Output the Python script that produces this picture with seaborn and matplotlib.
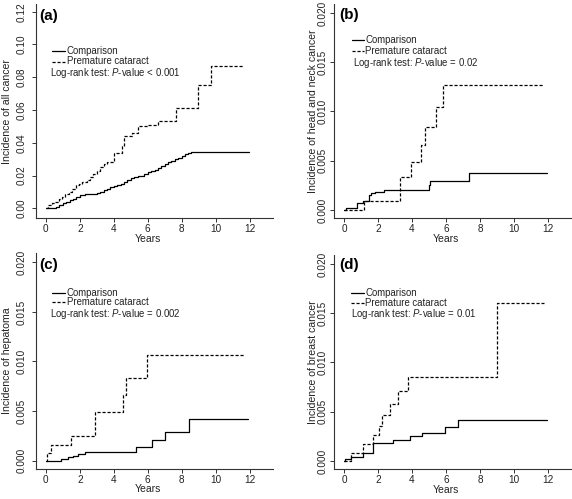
import matplotlib
matplotlib.use("Agg")
import pandas as pd
import matplotlib.pyplot as plt
import seaborn as sns

# cumulative incidence step curves (time in years, incidence)
a_cmp_t = [0, 0.3, 0.6, 0.8, 1.0, 1.2, 1.4, 1.6, 1.8, 2.0, 2.3, 2.6, 3.0, 3.2, 3.4, 3.6, 3.8, 4.0, 4.2, 4.4,
           4.6, 4.8, 5.0, 5.2, 5.4, 5.6, 5.8, 6.0, 6.2, 6.4, 6.6, 6.8, 7.0, 7.2, 7.4, 7.6, 7.8, 8.0, 8.2, 8.4,
           8.55, 11.95]
a_cmp_v = [0, 0.0005, 0.001, 0.002, 0.003, 0.004, 0.005, 0.0055, 0.007, 0.008, 0.0085, 0.009, 0.0095, 0.010,
           0.011, 0.012, 0.013, 0.0135, 0.014, 0.015, 0.016, 0.017, 0.0185, 0.019, 0.0195, 0.020, 0.021, 0.022,
           0.0225, 0.0235, 0.0245, 0.026, 0.027, 0.028, 0.029, 0.030, 0.031, 0.032, 0.033, 0.034, 0.0345, 0.0345]
a_pc_t = [0, 0.15, 0.35, 0.55, 0.75, 0.95, 1.15, 1.35, 1.55, 1.75, 1.95, 2.15, 2.4, 2.6, 2.8, 3.0, 3.2, 3.4,
          3.6, 4.0, 4.5, 4.6, 5.1, 5.4, 6.0, 6.6, 7.65, 8.95, 9.7, 11.7]
a_pc_v = [0, 0.002, 0.003, 0.004, 0.006, 0.007, 0.009, 0.010, 0.012, 0.014, 0.015, 0.016, 0.017, 0.019, 0.021,
          0.023, 0.025, 0.027, 0.028, 0.034, 0.038, 0.044, 0.046, 0.050, 0.051, 0.053, 0.061, 0.075, 0.087, 0.087]

b_cmp_t = [0, 0.1, 0.75, 1.1, 1.45, 1.6, 1.8, 2.35, 4.98, 5.08, 7.35, 11.95]
b_cmp_v = [0, 0.0002, 0.0007, 0.0009, 0.0015, 0.0017, 0.0018, 0.0020, 0.0025, 0.0030, 0.0038, 0.0038]
b_pc_t = [0, 1.15, 3.3, 3.95, 4.5, 4.75, 5.4, 5.8, 11.75]
b_pc_v = [0, 0.0009, 0.0034, 0.0049, 0.0066, 0.0084, 0.0105, 0.0127, 0.0127]

c_cmp_t = [0, 0.9, 1.3, 1.6, 1.9, 2.3, 5.3, 6.25, 7.0, 8.45, 11.9]
c_cmp_v = [0, 0.0002, 0.0004, 0.0005, 0.0007, 0.0009, 0.0014, 0.0021, 0.0029, 0.0042, 0.0042]
c_pc_t = [0, 0.05, 0.3, 1.5, 2.9, 4.55, 4.75, 5.95, 11.7]
c_pc_v = [0, 0.0008, 0.0016, 0.0025, 0.0049, 0.0066, 0.0083, 0.0107, 0.0107]

d_cmp_t = [0, 0.05, 0.4, 1.1, 1.7, 2.9, 3.9, 4.6, 5.95, 6.7, 11.95]
d_cmp_v = [0, 0.0002, 0.0004, 0.0008, 0.0018, 0.0021, 0.0025, 0.0029, 0.0035, 0.0042, 0.0042]
d_pc_t = [0, 0.4, 1.1, 1.7, 2.05, 2.25, 2.7, 3.2, 3.75, 9.0, 11.75]
d_pc_v = [0, 0.0008, 0.0017, 0.0026, 0.0036, 0.0047, 0.0058, 0.0071, 0.0085, 0.016, 0.016]

tags = ["(a)", "(b)", "(c)", "(d)"]
ylabels = ["Incidence of all cancer", "Incidence of head and neck cancer",
           "Incidence of hepatoma", "Incidence of breast cancer"]
pvals = ["< 0.001", "= 0.02", "= 0.002", "= 0.01"]
x_ticks = [0, 2, 4, 6, 8, 10, 12]
yticks_all = [0, 0.02, 0.04, 0.06, 0.08, 0.10, 0.12]
yticks_small = [0, 0.005, 0.010, 0.015, 0.020]
groups = ["Comparison", "Premature cataract"]

curves = [
    (a_cmp_t, a_cmp_v, a_pc_t, a_pc_v),
    (b_cmp_t, b_cmp_v, b_pc_t, b_pc_v),
    (c_cmp_t, c_cmp_v, c_pc_t, c_pc_v),
    (d_cmp_t, d_cmp_v, d_pc_t, d_pc_v),
]

sns.set_theme(style="ticks")
plt.rcParams["font.family"] = ["Liberation Sans", "DejaVu Sans"]
plt.rcParams["mathtext.fontset"] = "custom"
plt.rcParams["mathtext.rm"] = "Liberation Sans"
plt.rcParams["mathtext.it"] = "Liberation Sans:italic"

W, H = 572, 499
fig = plt.figure(figsize=(W / 100, H / 100), dpi=100)

# axes boxes in pixels: left, top, right, bottom
boxes = [(36, 4, 273, 218), (334.3, 4, 571.3, 218), (36, 253.5, 273, 468.5), (334.3, 255, 571.3, 469)]
# text placement in pixels from axes top-left
tag_pos = [(3, 12), (5, 11), (3, 11.5), (5, 10)]
leg_pos = [  # line x0, line x1, text x, y1, y2, log x, y3
    (15.7, 29, 30.7, 47, 57.5, 14, 69),
    (17.4, 29.4, 31, 36, 47, 18.4, 58.5),
    (15.7, 29, 30.7, 39.2, 48.7, 14, 60.8),
    (16.7, 29.4, 31, 37.7, 47.7, 16.7, 59),
]
ylab_x = [12, 318, 12, 318]
xlab_dy = [16, 16, 16, 16]
ytick_pad = [4.0, 1.5, 4.0, 1.5]

dash = (2.5, 1.5)
fs = 7.2
fs_leg = 6.9

for i in range(4):
    l, t, r, b = boxes[i]
    ax = fig.add_axes([l / W, 1 - b / H, (r - l) / W, (b - t) / H])
    aw, ah = r - l, b - t
    cmp_t, cmp_v, pc_t, pc_v = curves[i]
    df = pd.concat([
        pd.DataFrame({"t": cmp_t, "inc": cmp_v, "group": groups[0]}),
        pd.DataFrame({"t": pc_t, "inc": pc_v, "group": groups[1]}),
    ])
    sns.lineplot(data=df, x="t", y="inc", style="group", estimator=None,
                 dashes={groups[0]: "", groups[1]: dash}, color="black",
                 linewidth=0.9, drawstyle="steps-post", legend=False, ax=ax)

    ax.set_xlim(-0.58, 13.38)
    ax.set_xticks(x_ticks)
    ax.set_xticklabels([str(v) for v in x_ticks])
    if i == 0:
        ax.set_ylim(-0.0059, 0.1247)
        ax.set_yticks(yticks_all)
        ax.set_yticklabels([f"{v:.2f}" for v in yticks_all])
    else:
        ax.set_ylim(-0.0008, 0.0209)
        ax.set_yticks(yticks_small)
        ax.set_yticklabels([f"{v:.3f}" for v in yticks_small])

    for s in ["top", "right"]:
        ax.spines[s].set_visible(False)
    for s in ["left", "bottom"]:
        ax.spines[s].set_linewidth(0.8)
        ax.spines[s].set_color("#333333")
    ax.tick_params(axis="both", length=3, width=0.7, color="#333333", labelsize=fs, labelcolor="#222222")
    ax.tick_params(axis="x", pad=1.5)
    ax.tick_params(axis="y", pad=ytick_pad[i], labelrotation=90)
    for lab in ax.get_yticklabels():
        lab.set_va("center")

    ax.set_xlabel("Years", fontsize=fs + 0.3, color="#222222")
    ax.set_ylabel(ylabels[i], fontsize=fs + 0.4, color="#222222")
    ax.xaxis.set_label_coords((6 + 0.58) / 13.96, -xlab_dy[i] / ah)
    ax.yaxis.set_label_coords((ylab_x[i] - l) / aw, 0.5)

    def fx(px):
        return px / aw

    def fy(py):
        return 1 - py / ah

    tx, ty = tag_pos[i]
    ax.text(fx(tx), fy(ty), tags[i], transform=ax.transAxes, fontsize=11, fontweight="bold",
            ha="left", va="center", color="black")

    x0, x1, xt, y1, y2, xl, y3 = leg_pos[i]
    ax.plot([fx(x0), fx(x1)], [fy(y1), fy(y1)], transform=ax.transAxes, color="black", lw=0.9,
            clip_on=False)
    ax.plot([fx(x0), fx(x1)], [fy(y2), fy(y2)], transform=ax.transAxes, color="black", lw=0.9,
            dashes=dash, clip_on=False)
    ax.text(fx(xt), fy(y1), groups[0], transform=ax.transAxes, fontsize=fs_leg, ha="left", va="center",
            color="#222222")
    ax.text(fx(xt), fy(y2), groups[1], transform=ax.transAxes, fontsize=fs_leg, ha="left", va="center",
            color="#222222")
    ax.text(fx(xl), fy(y3), "Log-rank test: $\\mathit{P}$-value " + pvals[i], transform=ax.transAxes,
            fontsize=fs_leg, ha="left", va="center", color="#222222")

fig.savefig("out.png", dpi=100)
